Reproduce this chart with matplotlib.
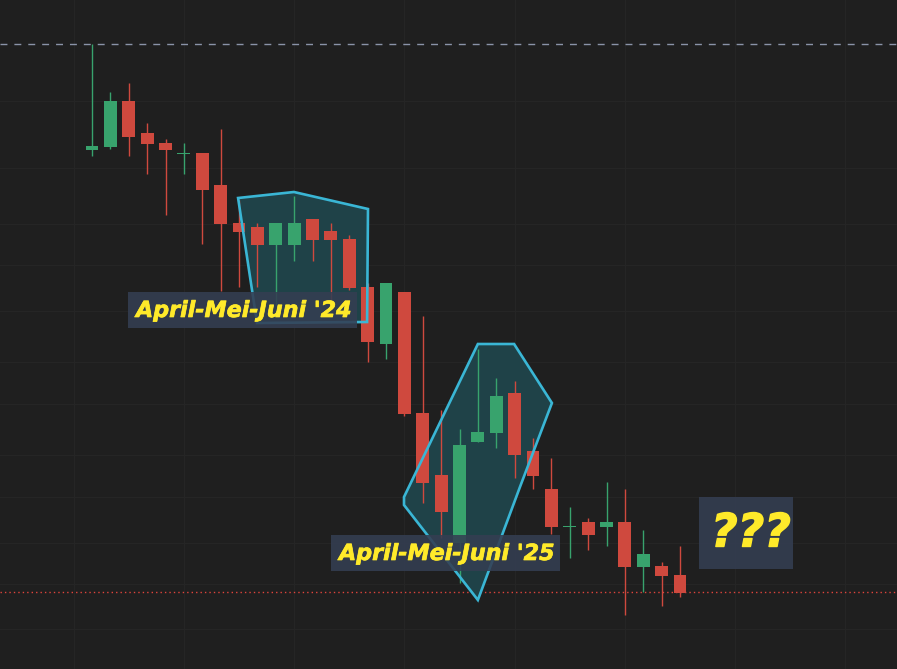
import matplotlib
matplotlib.use("Agg")
import matplotlib.pyplot as plt
from matplotlib.patches import Polygon, Rectangle
import matplotlib.patheffects as pe
import numpy as np

# ---- data (price units) ----
opens  = [51.9, 52.2, 56.8, 53.6, 52.6, 51.5, 51.6, 48.4, 44.6, 44.2, 42.4, 42.4, 45.0, 43.8, 43.0,
          38.2, 32.5, 37.7, 25.6, 19.4, 12.6, 22.7, 23.6, 27.6, 21.8, 18.0, 14.2, 14.7, 14.2, 14.7,
          10.2, 10.3, 9.4]
highs  = [62.5, 57.7, 58.6, 54.6, 53.0, 52.6, 51.6, 54.0, 46.9, 44.6, 44.6, 47.3, 45.0, 44.6, 43.4,
          38.6, 38.6, 37.7, 35.3, 25.9, 24.0, 32.0, 29.1, 28.8, 23.1, 21.1, 16.2, 15.1, 18.7, 18.0,
          13.9, 10.7, 12.3]
lows   = [51.3, 52.0, 51.3, 49.5, 45.4, 49.5, 42.5, 37.8, 38.2, 38.2, 36.4, 40.8, 40.8, 36.9, 37.9,
          30.7, 31.0, 25.3, 16.6, 13.1, 8.6, 22.7, 22.1, 19.1, 18.0, 13.5, 11.1, 11.9, 12.3, 5.4,
          7.7, 6.3, 7.2]
closes = [52.3, 56.8, 53.2, 52.5, 51.9, 51.6, 47.9, 44.5, 43.7, 42.4, 44.6, 44.6, 42.9, 42.9, 38.1,
          32.7, 38.6, 25.5, 18.6, 15.7, 22.4, 23.7, 27.3, 21.4, 19.3, 14.2, 14.3, 13.4, 14.7, 10.2,
          11.5, 9.3, 7.6]

top_level = 62.5      # dashed line
bottom_level = 7.7    # dotted red line
grid_prices = [56.8, 50.1, 44.5, 40.4, 35.8, 30.7, 26.5, 21.4, 17.2, 12.6, 8.5, 4.0]
grid_bars = [-1, 5, 11, 17, 23, 29, 35, 41]

# annotation shapes (bar index, price)
zone1 = [(7.95, 47.1), (10.99, 47.7), (15.02, 46.0), (14.97, 34.7), (8.98, 34.6)]
zone2 = [(21.0, 32.5), (22.97, 32.5), (25.03, 26.6), (23.29, 18.2), (21.0, 6.9),
         (16.98, 16.4), (16.98, 17.2)]
label1 = "April-Mei-Juni '24"
label2 = "April-Mei-Juni '25"
label3 = "???"

# ---- style ----
BG = '#1f1f1f'
GREEN = '#38a36d'
RED = '#cf493e'
GRID = '#252525'
EDGE = '#3ab6d5'
FILL = '#1f4248'
BOX = '#343e52'
YEL = '#ffea2a'

fig = plt.figure(figsize=(8.97, 6.69), dpi=100)
fig.patch.set_facecolor(BG)
ax = fig.add_axes([0, 0, 1, 1])
ax.set_facecolor(BG)
for s in ax.spines.values():
    s.set_visible(False)
ax.set_xticks([])
ax.set_yticks([])

x0 = -92 / 18.375
ax.set_xlim(x0, x0 + 897 / 18.375)
ax.set_ylim(0, 66.9)

for g in grid_prices:
    ax.axhline(g, color=GRID, lw=0.8, zorder=0)
for g in grid_bars:
    ax.axvline(g, color=GRID, lw=0.8, zorder=0)

ax.axhline(top_level, color='#8a93a8', lw=1.0, ls=(0, (5, 5)), zorder=1)
ax.axhline(bottom_level, color='#e0443c', lw=1.0, ls=(0, (1, 2.2)), zorder=1)

ax.add_patch(Polygon(zone1, closed=True, facecolor=FILL, edgecolor='none', zorder=1))
ax.add_patch(Polygon(zone2, closed=True, facecolor=FILL, edgecolor='none', zorder=1))

idx = np.arange(len(opens))
o = np.array(opens); c = np.array(closes); h = np.array(highs); l = np.array(lows)
cols = [GREEN if cc >= oo else RED for oo, cc in zip(o, c)]
ax.vlines(idx, l, h, colors=cols, lw=1.0, zorder=2)
bottoms = np.minimum(o, c)
heights = np.maximum(np.abs(c - o), 0.12)
ax.bar(idx, heights, bottom=bottoms, width=0.7, color=cols, zorder=2, linewidth=0)

ax.add_patch(Polygon(zone1, closed=True, facecolor='none', edgecolor=EDGE, lw=1.9,
                     joinstyle='miter', zorder=3))
ax.add_patch(Polygon(zone2, closed=True, facecolor='none', edgecolor=EDGE, lw=1.9,
                     joinstyle='miter', zorder=3))

def pix2data(px, py):
    return (px - 92) / 18.375, (669 - py) / 10.0

def box(px0, py0, px1, py1):
    xa, ya = pix2data(px0, py1)
    xb, yb = pix2data(px1, py0)
    ax.add_patch(Rectangle((xa, ya), xb - xa, yb - ya, facecolor=BOX, alpha=0.88,
                           edgecolor='none', zorder=4))

box(128, 292, 357, 328)
box(331, 535, 560, 571)
box(699, 497, 793, 569)

fnt = dict(family=['DejaVu Sans'], weight='bold', style='italic', color=YEL, zorder=5,
           ha='center', va='center')
t1 = ax.text(*pix2data(244, 311), label1, fontsize=16, **fnt)
t2 = ax.text(*pix2data(447, 554), label2, fontsize=16, **fnt)
t3 = ax.text(*pix2data(751, 534), label3, fontsize=33, **fnt)
for t, w in ((t1, 0.5), (t2, 0.5), (t3, 1.0)):
    t.set_path_effects([pe.withStroke(linewidth=w, foreground=YEL)])

fig.savefig('out.png', dpi=100, facecolor=BG)
